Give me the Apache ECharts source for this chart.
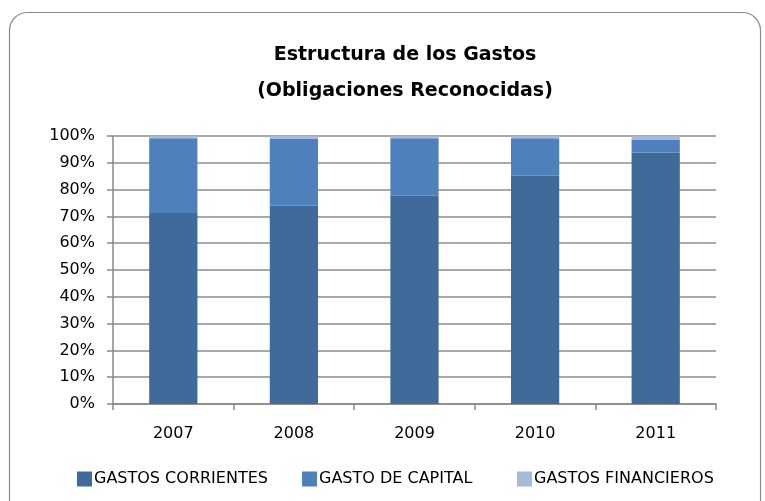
<!DOCTYPE html>
<html>
<head>
<meta charset="utf-8">
<script src="https://cdn.jsdelivr.net/npm/echarts@6/dist/echarts.min.js"></script>
<style>
html, body { margin: 0; padding: 0; background: #fff; }
#chart { width: 765px; height: 501px; }
</style>
</head>
<body>
<div id="chart"></div>
<script>
// datos del gráfico (porcentajes)
var years = ['2007', '2008', '2009', '2010', '2011'];
var corrientes = [71.3, 74.0, 77.7, 85.2, 93.8];
var capital = [27.9, 25.1, 21.5, 14.0, 4.7];
var financieros = [0.8, 0.9, 0.8, 0.8, 1.5];
var seriesNames = ['GASTOS CORRIENTES', 'GASTO DE CAPITAL', 'GASTOS FINANCIEROS'];
var legendLeft = [72, 297, 512];

var font = 'DejaVu Sans';
var chart = echarts.init(document.getElementById('chart'));

// una leyenda por serie, para colocar cada una como en el original
var legends = seriesNames.map(function(n, i) {
    return {
        left: legendLeft[i],
        top: 466,
        icon: 'rect',
        itemWidth: 15,
        itemHeight: 15,
        textStyle: { fontFamily: font, fontSize: 16, color: '#000', padding: [0, 0, 0, -3] },
        data: [n]
    };
});

var option = {
    animation: false,
    backgroundColor: '#fff',
    textStyle: { fontFamily: font },
    graphic: [{
        type: 'rect',
        left: 7,
        top: 10,
        shape: { width: 751, height: 520, r: 18 },
        style: { fill: 'none', stroke: '#8a8a8a', lineWidth: 1.2 },
        z: -1
    }],
    title: {
        text: 'Estructura de los Gastos\n(Obligaciones Reconocidas)',
        left: 400,
        textAlign: 'center',
        top: 32,
        textStyle: {
            fontFamily: font,
            fontWeight: 'bold',
            fontSize: 19,
            lineHeight: 36,
            color: '#000'
        }
    },
    legend: legends,
    grid: { left: 113, right: 49, top: 136, bottom: 97 },
    xAxis: {
        type: 'category',
        data: years,
        axisLine: { lineStyle: { color: '#888', width: 1.5 } },
        axisTick: { show: true, length: 6, lineStyle: { color: '#888', width: 1.5 } },
        axisLabel: { fontFamily: font, fontSize: 16, color: '#000', margin: 22 }
    },
    yAxis: {
        type: 'value',
        min: 0,
        max: 100,
        interval: 10,
        axisLine: { show: true, lineStyle: { color: '#888', width: 1.5 } },
        axisTick: { show: true, length: 6, lineStyle: { color: '#888', width: 1.5 } },
        splitLine: { lineStyle: { color: '#8c8c8c', width: 1.5 } },
        axisLabel: { fontFamily: font, fontSize: 16, color: '#000', margin: 18, formatter: '{value}%' }
    },
    series: [
        {
            name: seriesNames[0],
            type: 'bar',
            stack: 'total',
            barWidth: '40%',
            itemStyle: { color: '#3F6A9A' },
            data: corrientes
        },
        {
            name: seriesNames[1],
            type: 'bar',
            stack: 'total',
            itemStyle: { color: '#4E80BC' },
            data: capital
        },
        {
            name: seriesNames[2],
            type: 'bar',
            stack: 'total',
            itemStyle: { color: '#A7B9D9' },
            data: financieros
        }
    ]
};

chart.setOption(option);
</script>
</body>
</html>
